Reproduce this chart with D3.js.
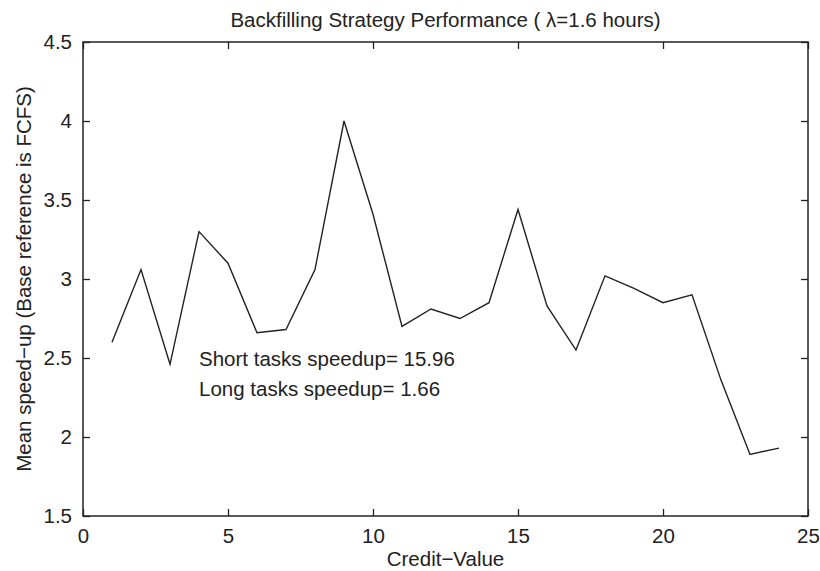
<!DOCTYPE html>
<html>
<head>
<meta charset="utf-8">
<script src="https://cdn.jsdelivr.net/npm/d3@7/dist/d3.min.js"></script>
<style>
  body { margin: 0; background: #fff; }
  svg { display: block; font-family: "Liberation Sans", Arial, sans-serif; }
  text { fill: #222; }
</style>
</head>
<body>
<svg width="820" height="571"></svg>
<script>
// Backfilling strategy: mean speed-up vs credit value
const creditValues = d3.range(1, 25);
const meanSpeedup = [2.60, 3.06, 2.46, 3.30, 3.10, 2.66, 2.68, 3.06, 4.00, 3.41, 2.70, 2.81,
                     2.75, 2.85, 3.44, 2.83, 2.55, 3.02, 2.94, 2.85, 2.90, 2.36, 1.89, 1.93];
const xTicks = [0, 5, 10, 15, 20, 25];
const yTicks = [1.5, 2, 2.5, 3, 3.5, 4, 4.5];
const notes = ["Short tasks speedup= 15.96", "Long tasks speedup= 1.66"];

const width = 820;
const height = 571;
const margin = { top: 42, right: 12, bottom: 55, left: 83 };

const svg = d3.select("svg");

const x = d3.scaleLinear().domain([0, 25]).range([margin.left, width - margin.right]);
const y = d3.scaleLinear().domain([1.5, 4.5]).range([height - margin.bottom, margin.top]);

const tickLen = 7;
const fontSize = 20.5;

// bottom axis
svg.append("g")
  .attr("transform", `translate(0,${y(1.5)})`)
  .call(d3.axisBottom(x).tickValues(xTicks).tickSizeInner(-tickLen).tickSizeOuter(0).tickPadding(12).tickFormat(d3.format("d")))
  .call(g => g.select(".domain").remove())
  .call(g => g.selectAll("text").attr("font-size", fontSize).style("font-family", "Liberation Sans, Arial, sans-serif"));

// top ticks
svg.append("g")
  .attr("transform", `translate(0,${y(4.5)})`)
  .call(d3.axisTop(x).tickValues(xTicks).tickSizeInner(-tickLen).tickSizeOuter(0).tickFormat(""))
  .call(g => g.select(".domain").remove());

// left axis
svg.append("g")
  .attr("transform", `translate(${x(0)},0)`)
  .call(d3.axisLeft(y).tickValues(yTicks).tickSizeInner(-tickLen).tickSizeOuter(0).tickPadding(11).tickFormat(d3.format("")))
  .call(g => g.select(".domain").remove())
  .call(g => g.selectAll("text").attr("font-size", fontSize).style("font-family", "Liberation Sans, Arial, sans-serif"));

// right ticks
svg.append("g")
  .attr("transform", `translate(${x(25)},0)`)
  .call(d3.axisRight(y).tickValues(yTicks).tickSizeInner(-tickLen).tickSizeOuter(0).tickFormat(""))
  .call(g => g.select(".domain").remove());

svg.selectAll(".tick line").attr("stroke", "#222").attr("stroke-width", 1.3);

// frame
svg.append("rect")
  .attr("x", x(0))
  .attr("y", y(4.5))
  .attr("width", x(25) - x(0))
  .attr("height", y(1.5) - y(4.5))
  .attr("fill", "none")
  .attr("stroke", "#222")
  .attr("stroke-width", 1.5);

// data line
const line = d3.line()
  .x((d, i) => x(creditValues[i]))
  .y(d => y(d));

svg.append("path")
  .datum(meanSpeedup)
  .attr("d", line)
  .attr("fill", "none")
  .attr("stroke", "#222")
  .attr("stroke-width", 1.4)
  .attr("stroke-linejoin", "miter");

// annotations
svg.selectAll(".note")
  .data(notes)
  .enter()
  .append("text")
  .attr("class", "note")
  .attr("x", x(4.0))
  .attr("y", (d, i) => y(2.5) + 8 + i * 30)
  .attr("font-size", fontSize)
  .text(d => d);

// title
svg.append("text")
  .attr("x", (x(0) + x(25)) / 2)
  .attr("y", 27)
  .attr("text-anchor", "middle")
  .attr("font-size", fontSize)
  .text("Backfilling Strategy Performance ( λ=1.6 hours)");

// axis labels
svg.append("text")
  .attr("x", (x(0) + x(25)) / 2)
  .attr("y", 566)
  .attr("text-anchor", "middle")
  .attr("font-size", fontSize)
  .text("Credit\u2212Value");

svg.append("text")
  .attr("transform", `translate(31,${(y(1.5) + y(4.5)) / 2}) rotate(-90)`)
  .attr("text-anchor", "middle")
  .attr("font-size", fontSize)
  .text("Mean speed\u2212up (Base reference is FCFS)");
</script>
</body>
</html>
